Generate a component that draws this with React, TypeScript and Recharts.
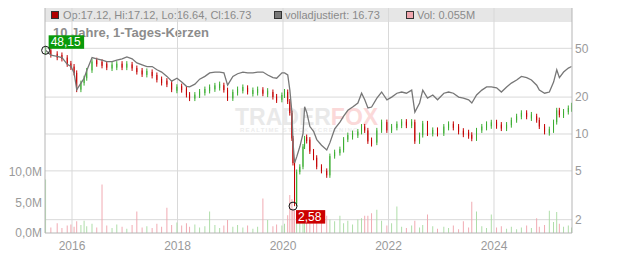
import React from "react"
import {
  ComposedChart,
  Bar,
  Line,
  XAxis,
  YAxis,
  CartesianGrid,
  Cell,
  ReferenceDot,
} from "recharts"

// decimal year of each sample
const years = [
  2015.5, 2015.6, 2015.72, 2015.81, 2015.91, 2015.98, 2016.04, 2016.09, 2016.17, 2016.23,
  2016.28, 2016.38, 2016.47, 2016.57, 2016.66, 2016.76, 2016.85, 2016.95, 2017.04, 2017.14,
  2017.23, 2017.33, 2017.42, 2017.52, 2017.61, 2017.7, 2017.8, 2017.89, 2017.99, 2018.08,
  2018.17, 2018.23, 2018.33, 2018.42, 2018.52, 2018.61, 2018.71, 2018.8, 2018.88, 2018.95,
  2019.05, 2019.14, 2019.24, 2019.33, 2019.43, 2019.52, 2019.62, 2019.71, 2019.81, 2019.88,
  2019.98, 2020.03, 2020.09, 2020.13, 2020.17, 2020.19, 2020.22, 2020.26, 2020.32, 2020.38,
  2020.41, 2020.45, 2020.51, 2020.58, 2020.64, 2020.73, 2020.83, 2020.89, 2020.98, 2021.08,
  2021.15, 2021.23, 2021.32, 2021.42, 2021.49, 2021.55, 2021.61, 2021.68, 2021.78, 2021.87,
  2021.97, 2022.06, 2022.16, 2022.25, 2022.34, 2022.44, 2022.5, 2022.59, 2022.65, 2022.74,
  2022.84, 2022.93, 2023.05, 2023.14, 2023.23, 2023.33, 2023.42, 2023.52, 2023.58, 2023.67,
  2023.77, 2023.86, 2023.95, 2024.05, 2024.14, 2024.24, 2024.33, 2024.43, 2024.52, 2024.62,
  2024.71, 2024.81, 2024.86, 2024.96, 2025.05, 2025.13, 2025.19, 2025.24, 2025.32, 2025.41,
  2025.47,
]

// candle closes
const closes = [
  48.2, 44, 43, 42, 37, 35.5, 31.5, 23, 26, 28.5,
  33, 39, 38, 36.7, 35.5, 35.5, 36.7, 35.5, 36.7, 34.5,
  32, 31.5, 31.5, 30.3, 27.6, 26.5, 26, 23, 23.8, 23.5,
  20.8, 19.6, 20.8, 22, 22.8, 23.8, 24.2, 25, 22.8, 19.5,
  22, 22.8, 23.8, 22, 22, 22.8, 21.5, 22, 20, 19,
  20.8, 22, 18.4, 14.8, 9.2, 5.8, 2.7, 4.9, 5.4, 7.9,
  9.2, 9, 7.2, 6.4, 5.4, 5, 4.6, 6.6, 7.1, 7.4,
  9, 9.8, 9.8, 10.4, 11.5, 10.7, 8.7, 8.5, 10.7, 12.5,
  10.7, 11.5, 11.8, 12.5, 11.8, 12.5, 8.7, 9.8, 12.2, 10.1,
  10.7, 10.1, 11.5, 11.8, 11.5, 10.4, 10.1, 9.8, 9.2, 10.7,
  11.5, 11.8, 12.2, 11.8, 11.2, 11.8, 13, 13.9, 14.8, 13.9,
  13.9, 13, 11.5, 10.4, 10.7, 12.5, 15.6, 14.3, 15.1, 16.3,
  16.73,
]

// volladjustiert line
const adjusted = [
  48.2, 44, 43, 42, 37, 35.5, 31.5, 23, 26, 28.5,
  33, 42, 41, 40, 39, 39, 40, 41, 42.5, 41,
  38, 36.7, 35.5, 35.5, 33.4, 32, 29.5, 27, 28.5, 26.5,
  24.5, 24.2, 25.5, 28, 29.5, 31.5, 32, 32, 31.5, 25,
  29.5, 31, 32, 31.5, 31.5, 32, 32, 30.3, 28.8, 28.5,
  31.5, 31.5, 30.3, 22.8, 14.8, 8.5, 5.8, 6.5, 7.9, 10.1,
  16.7, 15, 11.5, 10.5, 9, 8.1, 7.4, 8.5, 11, 12.5,
  14, 15.6, 16.6, 17.9, 21.5, 19, 16.3, 16.6, 19.6, 22,
  19, 20, 21.5, 22, 21.5, 22.8, 15.1, 17.9, 22.8, 19.6,
  20.8, 19, 21.5, 22, 21.5, 20, 19.6, 19, 17.9, 20.8,
  22.8, 24.2, 24.2, 23.8, 22, 24.2, 26, 27.6, 29.5, 28.8,
  27.6, 25, 22.8, 21.5, 22, 26.5, 33.4, 28.8, 32, 34.5,
  35.5,
]

// volume in millions
const volumes = [
  8.7, 0.9, 1.6, 0.8, 1.2, 1.4, 1.0, 1.9, 1.3, 2.0,
  1.1, 1.5, 0.9, 7.9, 1.2, 0.8, 1.4, 1.0, 0.7, 1.3,
  3.5, 0.9, 1.1, 0.8, 1.5, 1.0, 4.1, 1.3, 1.7, 1.2,
  1.6, 1.0, 1.4, 0.9, 1.1, 3.5, 1.3, 0.8, 1.2, 2.1,
  1.0, 1.3, 0.9, 1.2, 0.7, 1.0, 5.6, 2.1, 1.1, 1.4,
  1.2, 1.5, 2.9, 6.2, 5.5, 4.0, 3.8, 3.6, 2.4, 3.2,
  2.8, 2.2, 1.8, 1.6, 2.0, 1.7, 2.8, 2.2, 1.9, 2.8,
  1.6, 2.0, 1.4, 2.2, 2.4, 2.8, 2.8, 3.2, 3.8, 2.0,
  1.2, 1.6, 4.3, 1.0, 0.8, 1.2, 2.0, 0.9, 1.3, 3.0,
  1.1, 0.7, 1.0, 0.8, 1.2, 0.6, 1.9, 0.9, 5.1, 3.5,
  1.1, 0.8, 3.0, 0.9, 1.1, 0.7, 1.0, 0.6, 0.9, 1.2,
  0.8, 2.4, 1.0, 1.3, 3.6, 1.8, 3.4, 1.5, 1.0, 1.2,
  0.9,
]

const yearTicks = [2016, 2018, 2020, 2022, 2024]
const priceTicks = [2, 5, 10, 20, 50]
const volTicks = [0, 5, 10]

const RED = "#c40000"
const GREEN = "#3aad30"
const VOL_UP = "#abdca5"
const VOL_DOWN = "#f0a6ae"
const FONT = "'Liberation Sans', Arial, sans-serif"

const data = years.map((t, i) => ({
  t,
  open: i === 0 ? closes[0] : closes[i - 1],
  close: closes[i],
  adj: adjusted[i],
  vol: volumes[i],
}))

function Candle(props: any) {
  const { x, y, width, height, payload } = props
  if (x == null || y == null) return null
  const up = payload.close >= payload.open
  const color = up ? GREEN : RED
  const top0 = Math.min(y, y + height)
  const h0 = Math.abs(height)
  const h = Math.max(h0, 4)
  const top = top0 + h0 / 2 - h / 2
  const cx = x + width / 2
  return (
    <g>
      <line x1={cx} x2={cx} y1={top - 2.5} y2={top + h + 2.5} stroke={color} strokeWidth={1} />
      <rect x={x} y={top} width={width} height={h} fill={color} />
    </g>
  )
}

function Marker(props: any) {
  const { cx, cy, text, color, below } = props
  const bw = text.length * 6.3 + 4
  const by = below ? cy + 4 : cy - 15
  return (
    <g>
      <rect x={cx + 3} y={by} width={bw} height={13.5} fill={color} />
      <text x={cx + 5} y={by + 11} fill="#fff" fontSize={12} fontFamily={FONT}>
        {text}
      </text>
      <circle cx={cx} cy={cy} r={4} fill="none" stroke="#111" strokeWidth={1} />
    </g>
  )
}

const legendText: React.CSSProperties = {
  position: "absolute",
  top: 8,
  fontSize: 11,
  lineHeight: "14px",
  color: "#8a8a8a",
  fontFamily: FONT,
  whiteSpace: "nowrap",
}

function Square({ left, color }: { left: number; color: string }) {
  return (
    <div
      style={{
        position: "absolute",
        left,
        top: 11,
        width: 6,
        height: 6,
        background: color,
        border: "1px solid #333",
      }}
    />
  )
}

export default function App() {
  return (
    <div
      style={{
        position: "absolute",
        left: 0,
        top: 0,
        width: 632,
        height: 253,
        background: "#fff",
        fontFamily: FONT,
      }}
    >
      {/* background layer: header strip, title, watermark */}
      <div
        style={{
          position: "absolute",
          left: 45,
          top: 8,
          width: 527,
          height: 14,
          background: "#e6e6e6",
        }}
      />
      <Square left={51} color="#b00000" />
      <div style={{ ...legendText, left: 63 }}>Op:17.12, Hi:17.12, Lo:16.64, Cl:16.73</div>
      <Square left={274} color="#777" />
      <div style={{ ...legendText, left: 285 }}>volladjustiert: 16.73</div>
      <Square left={406} color="#f0a6ae" />
      <div style={{ ...legendText, left: 417 }}>Vol: 0.055M</div>
      <div
        style={{
          position: "absolute",
          left: 53,
          top: 25,
          fontSize: 13,
          fontWeight: 700,
          color: "#8c8c8c",
          whiteSpace: "nowrap",
        }}
      >
        10 Jahre, 1-Tages-Kerzen
      </div>
      <div
        style={{
          position: "absolute",
          left: 235,
          top: 104,
          fontSize: 23,
          fontWeight: 700,
          lineHeight: "26px",
          whiteSpace: "nowrap",
        }}
      >
        <span style={{ color: "#e9e9e9" }}>TRADER</span>
        <span style={{ color: "#fbd9d9" }}>FOX</span>
      </div>
      <div
        style={{
          position: "absolute",
          left: 240,
          top: 127,
          fontSize: 6,
          fontWeight: 700,
          letterSpacing: 1.2,
          color: "#ececec",
          whiteSpace: "nowrap",
        }}
      >
        REALTIME STOCK SCREENING
      </div>

      <div style={{ position: "absolute", left: 0, top: 0 }}>
        <ComposedChart
          width={632}
          height={253}
          data={data}
          margin={{ top: 8, right: 0, left: 0, bottom: 0 }}
        >
          <CartesianGrid
            xAxisId="main"
            yAxisId="price"
            stroke="#d9d9d9"
            horizontalValues={priceTicks}
            verticalValues={yearTicks}
          />
          <XAxis
            xAxisId="main"
            dataKey="t"
            type="number"
            domain={[2015.488, 2025.479]}
            allowDataOverflow
            ticks={yearTicks}
            tickLine={false}
            axisLine={{ stroke: "#b5b5b5" }}
            tick={{ fontSize: 12, fill: "#9a9a9a" }}
            height={20}
          />
          <XAxis xAxisId="vx" dataKey="t" type="number" domain={[2015.488, 2025.479]} allowDataOverflow hide />
          <YAxis
            yAxisId="vol"
            orientation="left"
            width={45}
            domain={[0, 36.6]}
            allowDataOverflow
            ticks={volTicks}
            tickFormatter={(v: number) => `${v},0M`}
            tickLine={false}
            tickSize={0}
            tickMargin={3}
            axisLine={{ stroke: "#b5b5b5" }}
            tick={{ fontSize: 12, fill: "#9a9a9a" }}
          />
          <YAxis
            yAxisId="price"
            orientation="right"
            width={60}
            scale="log"
            domain={[1.557, 106.6]}
            allowDataOverflow
            ticks={priceTicks}
            tickLine={false}
            tickSize={0}
            tickMargin={3}
            axisLine={{ stroke: "#b5b5b5" }}
            tick={{ fontSize: 12, fill: "#9a9a9a" }}
          />
          <Bar xAxisId="vx" yAxisId="vol" dataKey="vol" barSize={3} isAnimationActive={false}>
            {data.map((d, i) => (
              <Cell key={`v-${i}`} fill={d.close >= d.open ? VOL_UP : VOL_DOWN} />
            ))}
          </Bar>
          <Line
            xAxisId="main"
            yAxisId="price"
            dataKey="adj"
            stroke="#777777"
            strokeWidth={1.3}
            dot={false}
            isAnimationActive={false}
          />
          <Bar
            xAxisId="main"
            yAxisId="price"
            dataKey={(d: any) => [Math.min(d.open, d.close), Math.max(d.open, d.close)]}
            barSize={4}
            shape={<Candle />}
            isAnimationActive={false}
          />
          <ReferenceDot
            xAxisId="main"
            yAxisId="price"
            x={years[0]}
            y={48.15}
            r={4}
            shape={(p: any) => <Marker {...p} text="48,15" color="#0a9a0a" />}
          />
          <ReferenceDot
            xAxisId="main"
            yAxisId="price"
            x={2020.19}
            y={2.58}
            r={4}
            shape={(p: any) => <Marker {...p} text="2,58" color="#cc0000" below />}
          />
        </ComposedChart>
      </div>
    </div>
  )
}
